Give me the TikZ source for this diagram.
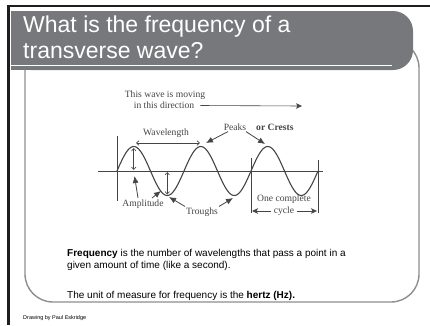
\documentclass[tikz,border=0pt]{standalone}
\usepackage{fontspec}
\setmainfont{Liberation Serif}
\setsansfont{Liberation Sans}
\usetikzlibrary{arrows.meta,positioning,calc}
\definecolor{slate}{HTML}{77787B}
\definecolor{frame}{HTML}{8E8E92}
\definecolor{ink}{HTML}{454545}
\definecolor{rule}{HTML}{1E1E1E}

\begin{document}
\begin{tikzpicture}[x=1pt,y=-1pt,
  title/.style={font=\sffamily\fontsize{23}{26}\selectfont,text=white,anchor=base west,inner sep=0pt},
  body/.style={font=\sffamily\fontsize{10}{12}\selectfont,anchor=base west,inner sep=0pt},
  lbl/.style={font=\fontsize{9.6}{10.5}\selectfont,text=ink,inner sep=0pt},
  arr/.style={-{Latex[length=7pt,width=6pt]},draw=ink,line width=0.8pt},
  barb/.style={-{Stealth[length=6pt,width=5.5pt,inset=1.5pt]},draw=ink,line width=0.7pt},
  dbl/.style={{Straight Barb[length=2.5pt,width=4.5pt]}-{Straight Barb[length=2.5pt,width=4.5pt]},draw=ink,line width=0.6pt},
  guide/.style={draw=ink,line width=0.8pt}
]
\useasboundingbox (0,0) rectangle (430,325);
\fill[white] (0,0) rectangle (430,325);
% slide frame and content box
\draw[rule,line width=2.5pt] (8.5,325) -- (8.5,6) -- (430,6);
\draw[frame,line width=1.4pt,rounded corners=28pt] (25,40) rectangle (419,302);
% title bar
\fill[slate,rounded corners=20pt] (11,11) rectangle (413,70);
\fill[slate] (11,11) rectangle (200,70);
\draw[white,line width=1.8pt] (11,65.5) -- (392,65.5);
\node[title] (title1) at (23,32) {What is the frequency of a};
\node[title] (title2) at (23,58) {transverse wave?};

% direction of travel
\node[lbl] (moving) at (165,95) {This wave is moving};
\node[lbl] (dir) at (164,105.5) {in this direction};
\coordinate (dirend) at (302,106);
\draw[barb,line width=0.6pt] ([xshift=6pt]dir.east) -- (dirend);

% axis, guides and wave
\coordinate (axL) at (98,171);
\coordinate (axR) at (323,171);
\draw[guide] (axL) -- (axR);
\draw[guide] (117,136) -- (117,201);
\draw[guide] (251,158) -- (251,213);
\draw[guide] (318,160) -- (318,213);
\draw[guide,line width=1.1pt] plot[domain=0:201,samples=150] ({\x+117},{171-24.5*sin(5.37313*\x)});

% amplitude markers
\draw[dbl] (133.75,148) -- (133.75,170);
\draw[dbl] (167.25,172) -- (167.25,194.5);

% labels
\node[lbl] (wavelength) at (166,133) {Wavelength};
\draw[dbl,line width=0.7pt] (136,143) -- (200,143);

\node[lbl] (peaks) at (235,127) {Peaks};
\node[lbl,font=\bfseries\fontsize{9.6}{10.5}\selectfont,anchor=west] (crests) at (256,127) {or Crests};
\coordinate (peak2) at (206,143);
\coordinate (peak3) at (265,144);
\draw[arr] ([xshift=-7pt,yshift=-1pt]peaks.south) -- (peak2);
\draw[arr] ([xshift=11pt,yshift=-1pt]peaks.south) -- (peak3);

\node[lbl] (amplitude) at (143,204) {Amplitude};
\coordinate (ampA) at (134.5,176);
\coordinate (ampB) at (161,191);
\draw[arr] ([xshift=-5pt,yshift=1.5pt]amplitude.north) -- (ampA);
\draw[arr] ([xshift=9pt,yshift=1.5pt]amplitude.north) -- (ampB);

\node[lbl] (troughs) at (202,212) {Troughs};
\coordinate (trA) at (169,197);
\coordinate (trB) at (233,198);
\draw[arr] ([xshift=-1pt,yshift=1pt]troughs.north west) -- (trA);
\draw[arr] ([xshift=1pt,yshift=1pt]troughs.north east) -- (trB);

\node[lbl] (complete) at (284,199.5) {One complete};
\node[lbl] (cycle) at (284,211) {cycle};
\coordinate (cycL) at (252,211);
\coordinate (cycR) at (317,211);
\draw[barb] ([xshift=-3pt]cycle.west) -- (cycL);
\draw[barb] ([xshift=3pt]cycle.east) -- (cycR);

% body text
\node[body] (freq1) at (67,256) {\textbf{Frequency} is the number of wavelengths that pass a point in a};
\node[body] (freq2) at (67,268) {given amount of time (like a second).};
\node[body] (unit) at (67,298) {The unit of measure for frequency is the \textbf{hertz (Hz).}};
\node[font=\sffamily\fontsize{5.5}{6}\selectfont,anchor=base west,inner sep=0pt] (credit) at (23,319) {Drawing by Paul Eskridge};
\end{tikzpicture}
\end{document}
